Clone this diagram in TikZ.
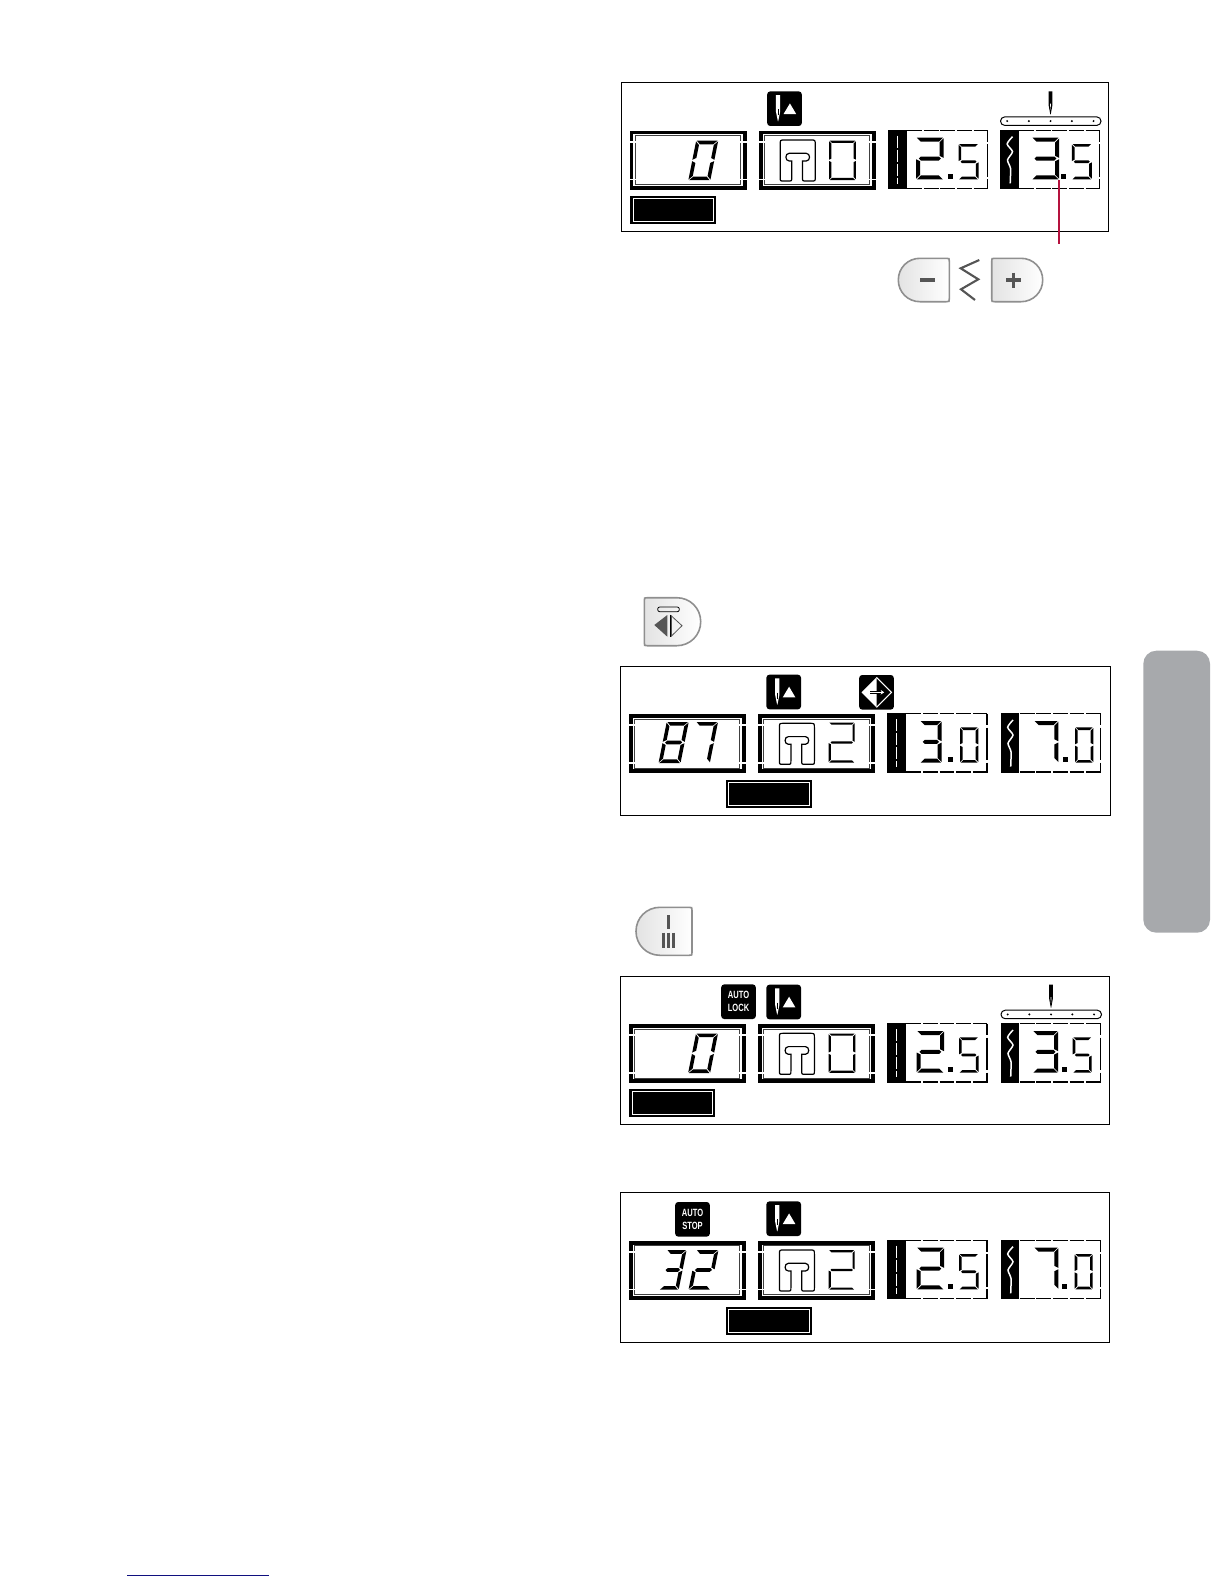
\documentclass[tikz,border=0pt]{standalone}
\usepackage{fontspec}
\newfontfamily\lcdfont[FakeStretch=.72]{Liberation Sans}
\definecolor{tabgray}{HTML}{A7A9AC}
\definecolor{keyedge}{HTML}{8F8F8F}
\definecolor{keymark}{HTML}{555555}
\definecolor{pointerred}{HTML}{B5123E}
\definecolor{linkblue}{HTML}{10107F}
\usetikzlibrary{arrows.meta}
\tikzset{
  lcdpanel/.style={draw=black,line width=1},
  lcdseg/.style={fill=black},
  lcddash/.style={black,line width=1.3,dash pattern=on 14.8pt off 1.8pt},
  lcdicon/.style={fill=black,rounded corners=3,minimum size=34.6,inner sep=0,text=white,align=center,
    font=\lcdfont\bfseries\fontsize{10.5}{13}\selectfont},
  keyface/.style={draw=keyedge,line width=1.6,left color=gray!22,middle color=white,right color=white},
  keysign/.style={keymark,line width=3.4},
}
% one segment each, top left of the digit at the origin
\def\dg{0.7}
\newcommand{\sega}{\fill[lcdseg] (\dg,0) -- (\dw-\dg,0) -- (\dw-\dg-\dt,\dt) -- (\dg+\dt,\dt) -- cycle;}
\newcommand{\segd}{\fill[lcdseg] (\dg,\dh) -- (\dw-\dg,\dh) -- (\dw-\dg-\dt,\dh-\dt) -- (\dg+\dt,\dh-\dt) -- cycle;}
\newcommand{\segg}{\fill[lcdseg] (\dg+\dt/2,\dh/2) -- (\dg+\dt,\dh/2-\dt/2) -- (\dw-\dg-\dt,\dh/2-\dt/2) -- (\dw-\dg-\dt/2,\dh/2) -- (\dw-\dg-\dt,\dh/2+\dt/2) -- (\dg+\dt,\dh/2+\dt/2) -- cycle;}
\newcommand{\segf}{\fill[lcdseg] (0,\dg) -- (\dt,\dg+\dt) -- (\dt,\dh/2-\dg-\dt/2) -- (0,\dh/2-\dg) -- cycle;}
\newcommand{\sege}{\fill[lcdseg] (0,\dh/2+\dg) -- (\dt,\dh/2+\dg+\dt/2) -- (\dt,\dh-\dg-\dt) -- (0,\dh-\dg) -- cycle;}
\newcommand{\segb}{\fill[lcdseg] (\dw,\dg) -- (\dw-\dt,\dg+\dt) -- (\dw-\dt,\dh/2-\dg-\dt/2) -- (\dw,\dh/2-\dg) -- cycle;}
\newcommand{\segc}{\fill[lcdseg] (\dw,\dh/2+\dg) -- (\dw-\dt,\dh/2+\dg+\dt/2) -- (\dw-\dt,\dh-\dg-\dt) -- (\dw,\dh-\dg) -- cycle;}
\def\dzero{a,b,c,d,e,f}
\def\dtwo{a,b,g,e,d}
\def\dthree{a,b,g,c,d}
\def\dfive{a,f,g,c,d}
\def\dseven{a,b,c}
\def\deight{a,b,c,d,e,f,g}
% x, y, width, height, thickness, segments, slant
\newcommand{\lcddigit}[7]{%
  \begin{scope}[shift={(#1,#2)},cm={1,0,#7,1,(0,0)}]
    \def\dw{#3}\def\dh{#4}\def\dt{#5}
    \foreach \dseg in #6 {\csname seg\dseg\endcsname}
  \end{scope}}
% double frame with cuts in its sides
\newcommand{\lcdframe}[1]{%
  \draw[black,line width=3.8] (#1+1.9,49.9) rectangle (#1+115.1,105.1);
  \draw[black!75,line width=.9] (#1+5.9,53.2) rectangle (#1+111.1,102);
  \foreach \cuty in {59,96.7} {
    \draw[white,line width=1.8] (#1-.5,\cuty) -- (#1+7,\cuty);
    \draw[white,line width=1.8] (#1+110,\cuty) -- (#1+117.5,\cuty);
  }}
% black block with dashed box to its right
\newcommand{\lcdbox}[1]{%
  \fill[black] (#1,47.3) rectangle (#1+18.7,106.5);
  \draw[lcddash] (#1+19,47.8) -- (#1+100,47.8);
  \draw[lcddash] (#1+19,106) -- (#1+100,106);
  \draw[black,line width=1.3] (#1+99.5,47.5) -- (#1+99.5,59);
  \draw[black,line width=1.3] (#1+99.5,61.5) -- (#1+99.5,94);
  \draw[black,line width=1.3] (#1+99.5,96.5) -- (#1+99.5,106.5);}
% panel border, frames, boxes; width, height, shift of the right box
\newcommand{\lcdbase}[3]{%
  \draw[lcdpanel] (0,0) rectangle (#1,#2);
  \lcdframe{8}
  \lcdframe{137.3}
  \lcdbox{266.7}
  \lcdbox{378.7+#3}
  \draw[white,line width=1.5,dash pattern=on 12pt off 2pt] (276,53) -- (276,101);
  \draw[white,line width=1.5] plot[smooth,tension=.4] coordinates
    {(391+#3,54) (385.6+#3,61.3) (391+#3,69) (386+#3,77.3) (389+#3,85.7) (388.7+#3,100.7)};
  % presser foot
  \draw[black,line width=1.2,shift={(158.7,57.3)}]
    (0,37.5) -- (0,4.5) .. controls (0,0) .. (4.5,0) -- (30.5,0) .. controls (35,0) .. (35,4.5)
    -- (35,37.5) .. controls (35,41) .. (31.5,41) -- (25.8,41) .. controls (22.3,41) .. (22.3,37.5)
    -- (22.3,21) -- (26,21) .. controls (30.4,21) and (30.4,13.3) .. (26,13.3) -- (9,13.3)
    .. controls (4.6,13.3) and (4.6,21) .. (9,21) -- (11.5,21) -- (11.5,37.5)
    .. controls (11.5,41) .. (8,41) -- (3.5,41) .. controls (0,41) .. (0,37.5) -- cycle;
  % needle up icon
  \begin{scope}[shift={(145.7,8.7)}]
    \fill[black,rounded corners=3] (0,0) rectangle (34.6,34.6);
    \fill[white] (8.7,3.7) -- (13,3.7) -- (13,20) -- (11,30) -- (10.7,30) -- (8.7,20) -- cycle;
    \draw[black,line width=.5] (10.8,18) -- (10.8,24);
    \fill[white] (16.3,22.7) -- (29,22.7) -- (22.7,12) -- cycle;
  \end{scope}}
% big digit, dot, small digit
\newcommand{\lcdreading}[7]{%
  \lcddigit{#1}{55}{#2}{41.7}{4}{#6}{0}
  \fill[black] (#3,91.3) rectangle (#3+5,96.3);
  \lcddigit{#4}{61.3}{#5}{35.4}{2.7}{#7}{0}}
% needle over the position scale
\newcommand{\lcdscale}[1]{%
  \begin{scope}[shift={(#1,0)}]
    \fill[black] (-1.8,8.7) -- (1.8,8.7) -- (1.8,23) -- (.2,31.7) -- (-.2,31.7) -- (-1.8,23) -- cycle;
    \fill[white] (-.4,21) -- (.4,21) -- (.1,27) -- (-.1,27) -- cycle;
    \draw[black,line width=1,rounded corners=4.2] (-50,34.2) rectangle (50.5,42.7);
    \foreach \px in {-43.3,-21.7,0,21.3,43} {
      \fill[black] (\px,38.4) circle (1.1);
    }
  \end{scope}}
% key with one round end
\newcommand{\dkey}[2]{%
  \draw[keyface] (3,0) -- (#1-#2/2,0) .. controls (#1-#2*.22,0) and (#1,#2*.22) .. (#1,#2/2)
    .. controls (#1,#2*.78) and (#1-#2*.22,#2) .. (#1-#2/2,#2) -- (3,#2)
    .. controls (0,#2) .. (0,#2-3) -- (0,3) .. controls (0,0) .. (3,0) -- cycle;}
% selection bar
\newcommand{\lcdbar}[2]{%
  \fill[black] (#1,#2) rectangle (#1+86,#2+28);
  \draw[white,line width=.8] (#1+2.7,#2+2.7) rectangle (#1+83.3,#2+25.3);}

\begin{document}
\begin{tikzpicture}[x=1pt,y=-1pt]
  \useasboundingbox (0,0) rectangle (1224,1584);
  % Side tab
  \fill[tabgray,rounded corners=13] (1143.3,650.7) rectangle (1210,932.7);
  % Link rule
  \draw[linkblue,line width=1] (127,1575.3) -- (268.7,1575.3);

  % First display
  \begin{scope}[shift={(621.5,82.7)}]
    \lcdbase{487.2}{148.6}{0}
    \lcdscale{429}
    \lcddigit{74.7}{58}{22}{39.5}{3.6}{\dzero}{.2}
    \lcddigit{207.7}{58}{26.6}{39.3}{2.2}{\dzero}{0}
    \lcdreading{294.7}{27.3}{326}{337}{20}{\dtwo}{\dfive}
    \lcdreading{410.3}{27.3}{439.3}{450.3}{20}{\dthree}{\dfive}
    \lcdbar{8.7}{113.3}
  \end{scope}
  % Pointer to the width keys
  \coordinate (valuedot) at (1059,180);
  \coordinate (keygap) at (1059,244);
  \draw[pointerred,line width=1.4] (valuedot) -- (keygap);
  % Width keys
  \begin{scope}[shift={(949.3,258.3)},xscale=-1]
    \dkey{51}{43.4}
  \end{scope}
  \begin{scope}[shift={(991.7,258.3)}]
    \dkey{51}{43.4}
  \end{scope}
  \draw[keysign] (920,280) -- (935,280);
  \draw[keysign] (1006,280) -- (1021,280);
  \draw[keysign] (1013.5,272.5) -- (1013.5,287.5);
  \draw[keymark,line width=2.1] (979.3,260) -- (960.7,268.3) -- (978.3,279.3) -- (961,289.3) -- (975,300);

  % Mirror key
  \begin{scope}[shift={(644.3,597.7)}]
    \dkey{56.4}{48}
  \end{scope}
  \draw[black,line width=.8,rounded corners=2] (657.7,607) rectangle (679.3,611.7);
  \fill[keymark] (654.3,625) -- (667.3,615) -- (667.3,636.7) -- cycle;
  \draw[black,line width=.8] (670,614.7) -- (670,636.7);
  \draw[keymark,line width=.8] (671.5,616) -- (682,625.7) -- (671.5,636) -- cycle;
  % Second display
  \begin{scope}[shift={(620.7,666)}]
    \lcdbase{490}{149}{1.3}
    \lcddigit{46}{56}{22}{41}{3.6}{\deight}{.2}
    \lcddigit{75.3}{56}{22}{41}{3.6}{\dseven}{.2}
    \lcddigit{208}{56.5}{26}{40}{2.2}{\dtwo}{0}
    \lcdreading{299.3}{21.7}{327.7}{339.3}{18.3}{\dthree}{\dzero}
    \lcdreading{413.3}{24.3}{442.7}{454.3}{18.3}{\dseven}{\dzero}
    \lcdbar{105.3}{114}
    \node[lcdicon,minimum size=34.6] (mirroricon) at (255.8,26.3) {};
    \begin{scope}[shift={(238.5,9)}]
      \fill[white] (17.3,2.3) -- (2.3,17.3) -- (17.3,32.3) -- cycle;
      \draw[white,line width=1] (17.3,2.3) -- (32.3,17.3) -- (17.3,32.3);
      \draw[black,line width=2.8] (11,17.3) -- (17.3,17.3);
      \draw[white,line width=1.1,-{Stealth[length=3.5pt,width=4.5pt]}] (11,17.3) -- (25,17.3);
    \end{scope}
  \end{scope}

  % Stitch key
  \begin{scope}[shift={(692,907.3)},xscale=-1]
    \dkey{56}{48}
  \end{scope}
  \draw[keymark,line width=3] (668.3,915) -- (668.3,929);
  \foreach \barx in {663.7,668.7,673.2} {
    \draw[keymark,line width=3] (\barx,932.7) -- (\barx,948.3);
  }
  % Third display
  \begin{scope}[shift={(620.7,976)}]
    \lcdbase{489}{148.7}{1.3}
    \lcdscale{430.3}
    \lcddigit{75.3}{57.5}{22}{39.5}{3.6}{\dzero}{.2}
    \lcddigit{208}{57.5}{26.6}{39.3}{2.2}{\dzero}{0}
    \lcdreading{296}{27.3}{327.7}{338.3}{19.5}{\dtwo}{\dfive}
    \lcdreading{412}{25.5}{441}{452}{19}{\dthree}{\dfive}
    \lcdbar{8.7}{113}
    \node[lcdicon] (autolock) at (117.8,25.7) {AUTO\\LOCK};
  \end{scope}

  % Fourth display
  \begin{scope}[shift={(620.7,1192.7)}]
    \lcdbase{489}{149.6}{1.3}
    \lcddigit{46.3}{57.5}{19.5}{39.5}{3.6}{\dthree}{.2}
    \lcddigit{75.7}{57.5}{22}{39.5}{3.6}{\dtwo}{.2}
    \lcddigit{208}{57.5}{26}{39.5}{2.2}{\dtwo}{0}
    \lcdreading{296}{27.3}{327.7}{338.3}{19.5}{\dtwo}{\dfive}
    \lcdreading{413.3}{24.3}{441}{454}{18}{\dseven}{\dzero}
    \lcdbar{105.3}{114.3}
    \node[lcdicon] (autostop) at (71.8,26.6) {AUTO\\STOP};
  \end{scope}
\end{tikzpicture}
\end{document}
